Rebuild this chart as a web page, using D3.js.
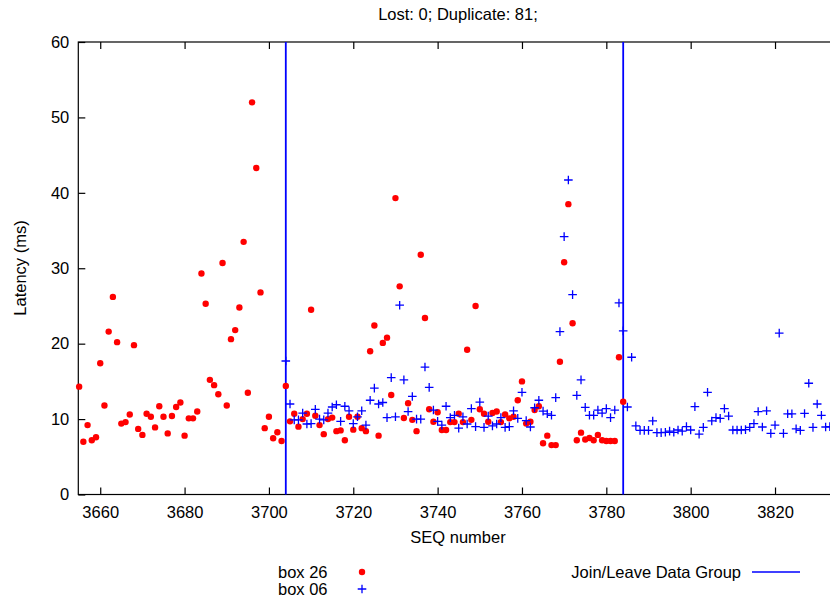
<!DOCTYPE html>
<html>
<head>
<meta charset="utf-8">
<script src="https://cdn.jsdelivr.net/npm/d3@7"></script>
<style>
  html, body { margin: 0; padding: 0; background: #fff; }
  svg { display: block; font-family: "Liberation Sans", Arial, Helvetica, sans-serif; }
  .axis text { font-size: 16.5px; fill: #000; }
  .axis path, .axis line { stroke: #000; stroke-width: 1.2; }
</style>
</head>
<body>
<svg id="chart" width="830" height="598"></svg>
<script>
// Sequence numbers and latencies (ms) received by each box
const box26Seq = [3655,3656,3657,3658,3659,3660,3661,3662,3663,3664,3665,3666,3667,3668,3669,3670,3671,3672,3673,3674,
  3675,3676,3677,3678,3679,3680,3681,3682,3683,3684,3685,3686,3687,3688,3689,3690,3691,3692,3693,3694,
  3695,3696,3697,3698,3699,3700,3701,3702,3703,3704,3705,3706,3707,3708,3709,3710,3711,3712,3713,3714,
  3715,3716,3717,3718,3719,3720,3721,3722,3723,3724,3725,3726,3727,3728,3729,3730,3731,3732,3733,3734,
  3735,3736,3737,3738,3739,3740,3741,3742,3743,3744,3745,3746,3747,3748,3749,3750,3751,3752,3753,3754,
  3755,3756,3757,3758,3759,3760,3761,3762,3763,3764,3765,3766,3767,3768,3769,3770,3771,3772,3773,3774,
  3775,3776,3777,3778,3779,3780,3781,3782,3783,3784];
const box26Latency = [14.3,7.0,9.2,7.2,7.6,17.4,11.8,21.6,26.2,20.2,9.4,9.6,10.6,19.8,8.7,7.9,10.7,10.3,8.9,11.7,
  10.3,8.1,10.4,11.6,12.2,7.8,10.1,10.1,11.0,29.3,25.3,15.2,14.5,13.3,30.7,11.8,20.6,21.8,24.8,33.5,
  13.5,52.0,43.3,26.8,8.8,10.3,7.45,8.25,7.1,14.4,9.7,10.7,9.0,10.0,10.7,24.5,10.45,9.2,8.0,10.0,
  10.2,8.4,8.5,7.2,10.3,8.6,10.3,8.8,8.4,19.0,22.4,7.8,20.1,20.8,13.2,39.3,27.6,10.15,12.1,9.9,
  8.4,31.8,23.4,11.3,9.65,10.9,8.55,8.55,9.6,9.6,10.7,9.6,19.2,9.9,25.0,11.3,10.7,9.65,10.8,11.0,
  9.6,10.6,10.1,10.3,12.5,15.0,9.4,9.65,11.2,11.7,6.8,7.8,6.55,6.55,17.6,30.8,38.5,22.7,7.2,8.2,
  7.3,7.5,7.2,7.9,7.2,7.1,7.1,7.1,18.2,12.3];

const box06Seq = [3704,3705,3706,3707,3708,3709,3710,3711,3712,3713,3714,3715,3716,3717,3718,3719,3720,3721,3722,3723,
  3724,3725,3726,3727,3728,3729,3730,3731,3732,3733,3734,3735,3736,3737,3738,3739,3740,3741,3742,3743,
  3744,3745,3746,3747,3748,3749,3750,3751,3752,3753,3754,3755,3756,3757,3758,3759,3760,3761,3762,3763,
  3764,3765,3766,3767,3768,3769,3770,3771,3772,3773,3774,3775,3776,3777,3778,3779,3780,3781,3782,3783,
  3784,3785,3786,3787,3788,3789,3790,3791,3792,3793,3794,3795,3796,3797,3798,3799,3800,3801,3802,3803,
  3804,3805,3806,3807,3808,3809,3810,3811,3812,3813,3814,3815,3816,3817,3818,3819,3820,3821,3822,3823,
  3824,3825,3826,3827,3828,3829,3830,3831,3832,3833];
const box06Latency = [17.7,12.0,9.9,9.9,10.8,9.35,9.4,11.3,10.0,9.9,10.8,11.6,11.9,9.7,11.7,11.1,9.4,10.3,11.1,9.2,
  12.5,14.1,12.0,12.2,10.2,15.5,10.3,25.1,15.2,11.0,13.0,10.0,10.0,16.9,14.2,11.2,9.7,9.2,11.7,10.2,
  10.5,8.8,10.3,9.35,11.4,9.0,12.25,8.9,10.4,9.1,9.35,10.2,8.9,9.0,11.1,10.1,13.55,9.8,8.95,11.5,
  12.5,11.05,10.7,10.5,12.85,21.6,34.2,41.7,26.5,13.15,15.2,11.55,10.5,10.5,11.2,10.8,11.4,10.2,11.2,25.4,
  21.7,11.6,18.2,9.1,8.5,8.5,8.5,9.75,8.2,8.2,8.25,8.4,8.25,8.55,8.4,9.0,8.55,11.65,8.0,8.9,
  13.55,9.75,10.2,10.1,11.4,10.4,8.55,8.55,8.55,8.6,8.9,9.4,11.0,8.95,11.1,8.1,9.2,21.4,8.1,10.7,
  10.7,8.7,8.5,10.75,14.75,8.9,12.0,10.5,8.95,9.0];

// Sequence numbers where the data group was joined / left
const groupEvents = [3704, 3784];

const xTicks = [3660, 3680, 3700, 3720, 3740, 3760, 3780, 3800, 3820];
const yTicks = [0, 10, 20, 30, 40, 50, 60];

const titleText = "Lost: 0; Duplicate: 81;";
const xLabel = "SEQ number";
const yLabel = "Latency (ms)";
const seriesNames = ["box 26", "box 06"];
const eventName = "Join/Leave Data Group";

const RED = "#ff0000", BLUE = "#0000ff";

const svg = d3.select("#chart");
const plotLeft = 78.3, plotTop = 42, plotBottom = 494.5, plotRight = 842.5;

const x = d3.scaleLinear().domain([3654.8, 3836]).range([plotLeft, plotRight]);
const y = d3.scaleLinear().domain([0, 60]).range([plotBottom, plotTop]);

// Frame
svg.append("rect")
  .attr("x", plotLeft).attr("y", plotTop)
  .attr("width", plotRight - plotLeft).attr("height", plotBottom - plotTop)
  .attr("fill", "none").attr("stroke", "#000").attr("stroke-width", 1.2);

// Axes with inward ticks
svg.append("g").attr("class", "axis")
  .attr("transform", `translate(0,${plotBottom})`)
  .call(d3.axisBottom(x).tickValues(xTicks).tickSizeInner(-7).tickSizeOuter(0).tickPadding(12).tickFormat(d3.format("d")))
  .call(g => g.select(".domain").remove());

svg.append("g").attr("class", "axis")
  .attr("transform", `translate(0,${plotTop})`)
  .call(d3.axisTop(x).tickValues(xTicks).tickSizeInner(-7).tickSizeOuter(0).tickFormat(""))
  .call(g => g.select(".domain").remove());

svg.append("g").attr("class", "axis")
  .attr("transform", `translate(${plotLeft},0)`)
  .call(d3.axisLeft(y).tickValues(yTicks).tickSizeInner(-7).tickSizeOuter(0).tickPadding(9))
  .call(g => g.select(".domain").remove());

// Join/leave markers
svg.append("g").selectAll("line")
  .data(groupEvents).join("line")
  .attr("x1", d => x(d)).attr("x2", d => x(d))
  .attr("y1", plotTop).attr("y2", plotBottom)
  .attr("stroke", BLUE).attr("stroke-width", 1.8);

// box 26: filled dots
svg.append("g").selectAll("circle")
  .data(box26Seq.map((s, i) => [s, box26Latency[i]])).join("circle")
  .attr("cx", d => x(d[0])).attr("cy", d => y(d[1]))
  .attr("r", 3.2).attr("fill", RED);

// box 06: plus signs
function plusPath(cx, cy, h) {
  return `M${cx - h},${cy}H${cx + h}M${cx},${cy - h}V${cy + h}`;
}
svg.append("g").selectAll("path")
  .data(box06Seq.map((s, i) => [s, box06Latency[i]])).join("path")
  .attr("d", d => plusPath(x(d[0]), y(d[1]), 4.3))
  .attr("stroke", BLUE).attr("stroke-width", 1.3).attr("fill", "none");

// Titles
svg.append("text").attr("x", 458).attr("y", 20)
  .attr("text-anchor", "middle").attr("font-size", 16.5).text(titleText);
svg.append("text").attr("x", 458).attr("y", 543)
  .attr("text-anchor", "middle").attr("font-size", 16.5).text(xLabel);
svg.append("text")
  .attr("transform", "translate(26,268) rotate(-90)")
  .attr("text-anchor", "middle").attr("font-size", 16.5).text(yLabel);

// Legend
const leg = svg.append("g").attr("font-size", 16.5);
leg.append("text").attr("x", 278).attr("y", 578).text(seriesNames[0]);
leg.append("text").attr("x", 278).attr("y", 595).text(seriesNames[1]);
leg.append("circle").attr("cx", 362).attr("cy", 572).attr("r", 3.2).attr("fill", RED);
leg.append("path").attr("d", plusPath(362, 589, 4.3)).attr("stroke", BLUE).attr("stroke-width", 1.3);
leg.append("text").attr("x", 741).attr("y", 578).attr("text-anchor", "end").text(eventName);
leg.append("line").attr("x1", 752).attr("x2", 800).attr("y1", 572).attr("y2", 572)
  .attr("stroke", BLUE).attr("stroke-width", 1.6);
</script>
</body>
</html>
